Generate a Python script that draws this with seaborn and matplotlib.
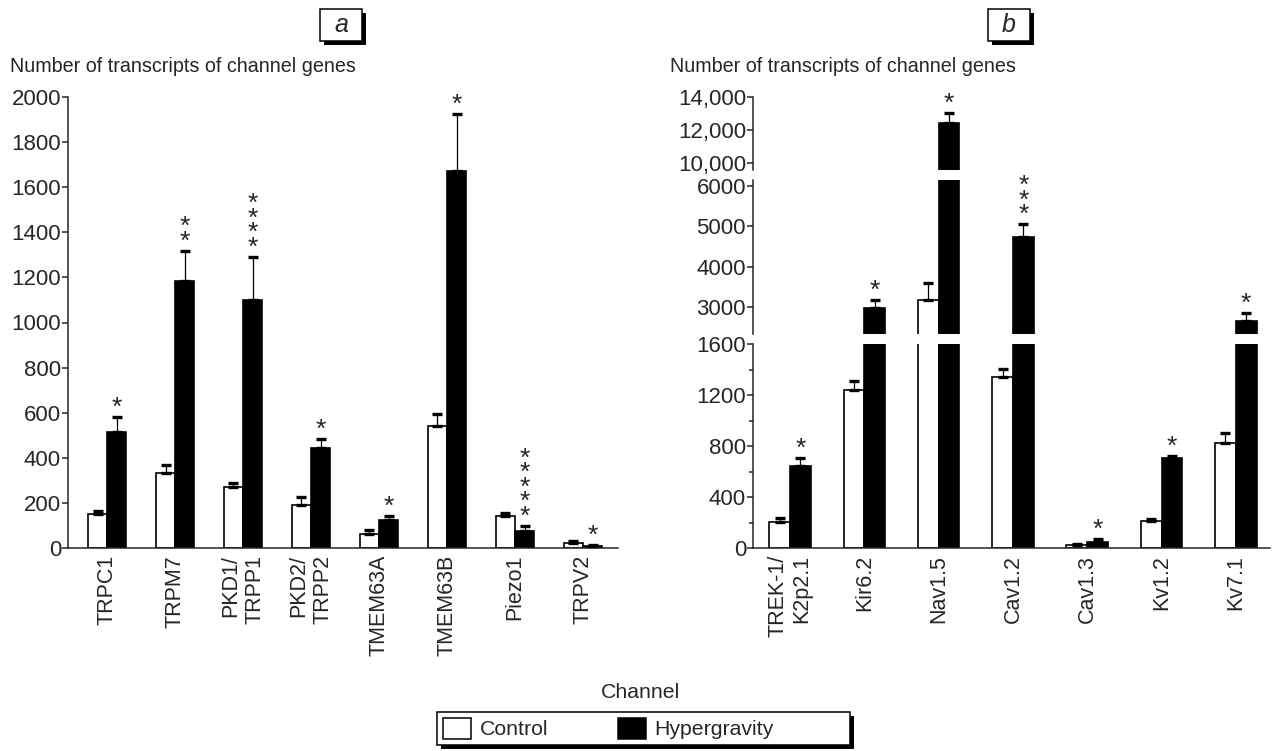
import numpy as np
import pandas as pd
import matplotlib
matplotlib.use("Agg")
import matplotlib.pyplot as plt
from matplotlib.patches import Rectangle, Patch
import seaborn as sns

# figure size in pixels (dpi 100)
W, H = 1272, 751

# panel a: mechanosensitive channels
channels_a = ["TRPC1", "TRPM7", "PKD1/\nTRPP1", "PKD2/\nTRPP2", "TMEM63A", "TMEM63B", "Piezo1", "TRPV2"]
control_a = [149, 334, 270, 189, 61, 543, 143, 22]
control_a_err = [15, 35, 19, 37, 20, 52, 12, 9]
hyper_a = [515, 1184, 1098, 444, 122, 1672, 75, 7]
hyper_a_err = [67, 133, 194, 40, 18, 253, 24, 5]
stars_a = ["*", "**", "****", "*", "*", "*", "*****", "*"]

# panel b: other channels (broken y axis)
channels_b = ["TREK-1/\nK2p2.1", "Kir6.2", "Nav1.5", "Cav1.2", "Cav1.3", "Kv1.2", "Kv7.1"]
control_b = [207, 1240, 3165, 1338, 21, 215, 821]
control_b_err = [31, 66, 428, 68, 8, 10, 79]
hyper_b = [641, 2975, 12400, 4731, 48, 702, 2646]
hyper_b_err = [64, 206, 640, 321, 24, 21, 206]
stars_b = ["*", "*", "*", "***", "*", "*", "*"]

groups = ["Control", "Hypergravity"]
palette = {"Control": "white", "Hypergravity": "black"}
BAR_W = 0.56

sns.set_style("ticks")
plt.rcParams["font.family"] = ["Liberation Sans", "DejaVu Sans"]
plt.rcParams["axes.linewidth"] = 1.1

fig = plt.figure(figsize=(W / 100, H / 100), dpi=100)


def px_axes(x0, y0, x1, y1):
    # axes from pixel box (top-left origin)
    return fig.add_axes([x0 / W, 1 - y1 / H, (x1 - x0) / W, (y1 - y0) / H])


def make_frame(channels, ctrl, hyp):
    n = len(channels)
    return pd.DataFrame({
        "channel": list(channels) * 2,
        "value": list(ctrl) + list(hyp),
        "group": ["Control"] * n + ["Hypergravity"] * n,
    })


def draw_bars(ax, df, ctrl, ctrl_err, hyp, hyp_err):
    sns.barplot(data=df, x="channel", y="value", hue="group", hue_order=groups,
                palette=palette, width=BAR_W, edgecolor="black", linewidth=1.2,
                saturation=1, errorbar=None, legend=False, ax=ax)
    x = np.arange(len(ctrl))
    for off, vals, errs in [(-BAR_W / 4, ctrl, ctrl_err), (BAR_W / 4, hyp, hyp_err)]:
        ax.errorbar(x + off, vals, yerr=[np.zeros(len(vals)), errs], fmt="none",
                    ecolor="black", elinewidth=0.9, capsize=3.5, capthick=2.4, zorder=3)


def add_stars(ax, hyp, hyp_err, stars, idx):
    for i in idx:
        ax.annotate("\n".join(stars[i]), (i + BAR_W / 4, hyp[i] + hyp_err[i]),
                    xytext=(0, -2), textcoords="offset points", ha="center", va="bottom",
                    fontsize=19, linespacing=0.5, annotation_clip=False)


def style_axes(ax, bottom=True):
    sns.despine(ax=ax, bottom=not bottom)
    ax.set_xlabel("")
    ax.set_ylabel("")
    ax.tick_params(axis="y", labelsize=16, length=4, width=1.1, pad=1)
    ax.tick_params(axis="y", which="minor", length=3, width=1.1)
    if bottom:
        ax.tick_params(axis="x", length=0, pad=5)
    else:
        ax.set_xticks([])


# ---------- panel a ----------
df_a = make_frame(channels_a, control_a, hyper_a)
ax_a = px_axes(68, 97, 618, 548)
draw_bars(ax_a, df_a, control_a, control_a_err, hyper_a, hyper_a_err)
add_stars(ax_a, hyper_a, hyper_a_err, stars_a, range(len(channels_a)))
ax_a.set_xlim(-0.574, 7.515)
ax_a.set_ylim(0, 2000)
ax_a.set_yticks(np.arange(0, 2001, 200))
style_axes(ax_a)
ax_a.set_xticks(range(len(channels_a)))
ax_a.set_xticklabels(channels_a, rotation=90, fontsize=15.5, ha="center", va="top",
                     multialignment="right")

# ---------- panel b (three segments) ----------
df_b = make_frame(channels_b, control_b, hyper_b)
xlim_b = (-0.498, 6.46)
tops = [h + e for h, e in zip(hyper_b, hyper_b_err)]

ax_b1 = px_axes(753, 344, 1270, 548)
ax_b2 = px_axes(753, 180, 1270, 334)
ax_b3 = px_axes(753, 97, 1270, 170)
limits = [(0, 1600), (2328, 6149), (9580, 14000)]
for ax, lim in zip([ax_b1, ax_b2, ax_b3], limits):
    draw_bars(ax, df_b, control_b, control_b_err, hyper_b, hyper_b_err)
    ax.set_xlim(*xlim_b)
    ax.set_ylim(*lim)
    idx = [i for i, t in enumerate(tops) if lim[0] <= t < lim[1]]
    add_stars(ax, hyper_b, hyper_b_err, stars_b, idx)

ax_b1.set_yticks(np.arange(0, 1601, 400))
ax_b1.set_yticks(np.arange(200, 1600, 400), minor=True)
style_axes(ax_b1)
ax_b1.set_xticks(range(len(channels_b)))
ax_b1.set_xticklabels(channels_b, rotation=90, fontsize=15.5, ha="center", va="top",
                      multialignment="right")

ax_b2.set_yticks([3000, 4000, 5000, 6000])
style_axes(ax_b2, bottom=False)

ticks_top = [10000, 12000, 14000]
ax_b3.set_yticks(ticks_top)
ax_b3.set_yticklabels([f"{t:,}" for t in ticks_top])
style_axes(ax_b3, bottom=False)


# ---------- boxes with drop shadow ----------
def shadow_box(x0, y0, x1, y1, off=4):
    fig.add_artist(Rectangle(((x0 + off) / W, 1 - (y1 + off) / H), (x1 - x0) / W, (y1 - y0) / H,
                             transform=fig.transFigure, facecolor="black", edgecolor="none", zorder=3))
    fig.add_artist(Rectangle((x0 / W, 1 - y1 / H), (x1 - x0) / W, (y1 - y0) / H,
                             transform=fig.transFigure, facecolor="white", edgecolor="black",
                             linewidth=1.1, zorder=4))


shadow_box(320, 9, 362, 41)
fig.text(341 / W, 1 - 25 / H, "a", ha="center", va="center", fontsize=18, style="italic", zorder=6)
shadow_box(988, 9, 1030, 41)
fig.text(1009 / W, 1 - 25 / H, "b", ha="center", va="center", fontsize=18, style="italic", zorder=6)

fig.text(10 / W, 1 - 67 / H, "Number of transcripts of channel genes", ha="left", va="center", fontsize=14.2)
fig.text(670 / W, 1 - 67 / H, "Number of transcripts of channel genes", ha="left", va="center", fontsize=14.2)
fig.text(640 / W, 1 - 692 / H, "Channel", ha="center", va="center", fontsize=15.3)

# legend
shadow_box(437, 712, 850, 745)
handles = [Patch(facecolor="white", edgecolor="black", linewidth=1.1),
           Patch(facecolor="black", edgecolor="black", linewidth=1.1)]
fig.legend(handles, groups, loc="center left", bbox_to_anchor=(443 / W, 1 - 728.5 / H),
           frameon=False, ncol=2, fontsize=15.3, handlelength=1.3, handleheight=1.15,
           handletextpad=0.42, columnspacing=3.3, borderpad=0, borderaxespad=0)

fig.savefig("out.png", dpi=100)
